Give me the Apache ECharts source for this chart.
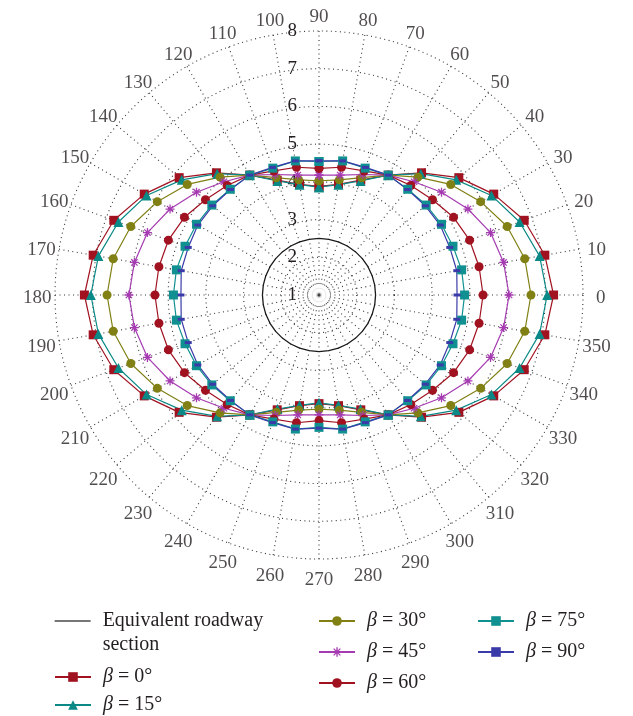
<!DOCTYPE html>
<html>
<head>
<meta charset="utf-8">
<script src="https://cdn.jsdelivr.net/npm/echarts@6/dist/echarts.min.js"></script>
<style>
  html, body { margin: 0; padding: 0; background: #ffffff; }
  #chart { width: 633px; height: 716px; }
</style>
</head>
<body>
<div id="chart"></div>
<script>
// Polar angles (degrees) at which every profile is sampled, and the angle tick labels
const angleTicks = [0, 10, 20, 30, 40, 50, 60, 70, 80, 90, 100, 110, 120, 130, 140, 150, 160, 170,
                    180, 190, 200, 210, 220, 230, 240, 250, 260, 270, 280, 290, 300, 310, 320, 330, 340, 350];

// Radius of the equivalent (circular) roadway section
const equivalentSection = [2.5, 2.5, 2.5, 2.5, 2.5, 2.5, 2.5, 2.5, 2.5, 2.5, 2.5, 2.5, 2.5, 2.5, 2.5, 2.5, 2.5, 2.5,
                           2.5, 2.5, 2.5, 2.5, 2.5, 2.5, 2.5, 2.5, 2.5, 2.5, 2.5, 2.5, 2.5, 2.5, 2.5, 2.5, 2.5, 2.5];

// Plastic-zone boundary radius for each β, one value per angle in angleTicks
const beta0 = [7.22, 7.08, 6.79, 6.35, 5.84, 5.23, 4.67, 4.24, 3.98, 3.88, 3.98, 4.24, 4.67, 5.23, 5.84, 6.35, 6.79, 7.08,
               7.22, 7.08, 6.79, 6.35, 5.84, 5.23, 4.67, 4.24, 3.98, 3.88, 3.98, 4.24, 4.67, 5.23, 5.84, 6.35, 6.79, 7.08];
const beta15 = [7.05, 6.94, 6.66, 6.28, 5.75, 5.20, 4.67, 4.22, 3.97, 3.86, 3.97, 4.22, 4.67, 5.20, 5.75, 6.28, 6.66, 6.94,
                7.05, 6.94, 6.66, 6.28, 5.75, 5.20, 4.67, 4.22, 3.97, 3.86, 3.97, 4.22, 4.67, 5.20, 5.75, 6.28, 6.66, 6.94];
const beta30 = [6.62, 6.54, 6.31, 5.95, 5.56, 5.08, 4.67, 4.31, 4.10, 4.03, 4.10, 4.31, 4.67, 5.08, 5.56, 5.95, 6.31, 6.54,
                6.62, 6.54, 6.31, 5.95, 5.56, 5.08, 4.67, 4.31, 4.10, 4.03, 4.10, 4.31, 4.67, 5.08, 5.56, 5.95, 6.31, 6.54];
const beta45 = [6.04, 5.97, 5.84, 5.56, 5.24, 4.92, 4.67, 4.40, 4.23, 4.18, 4.23, 4.40, 4.67, 4.92, 5.24, 5.56, 5.84, 5.97,
                6.04, 5.97, 5.84, 5.56, 5.24, 4.92, 4.67, 4.40, 4.23, 4.18, 4.23, 4.40, 4.67, 4.92, 5.24, 5.56, 5.84, 5.97];
const beta60 = [5.35, 5.31, 5.25, 5.12, 4.93, 4.79, 4.67, 4.50, 4.44, 4.36, 4.44, 4.50, 4.67, 4.79, 4.93, 5.12, 5.25, 5.31,
                5.35, 5.31, 5.25, 5.12, 4.93, 4.79, 4.67, 4.50, 4.44, 4.33, 4.44, 4.50, 4.67, 4.79, 4.93, 5.12, 5.25, 5.31];
const beta75 = [4.86, 4.84, 4.78, 4.75, 4.71, 4.66, 4.67, 4.58, 4.61, 4.54, 4.61, 4.58, 4.67, 4.66, 4.71, 4.75, 4.78, 4.84,
                4.86, 4.84, 4.78, 4.75, 4.71, 4.66, 4.67, 4.58, 4.61, 4.51, 4.61, 4.58, 4.67, 4.66, 4.71, 4.75, 4.78, 4.84];
const beta90 = [4.66, 4.71, 4.69, 4.71, 4.68, 4.65, 4.67, 4.60, 4.61, 4.56, 4.61, 4.60, 4.67, 4.65, 4.68, 4.71, 4.69, 4.71,
                4.66, 4.71, 4.69, 4.71, 4.68, 4.65, 4.67, 4.60, 4.61, 4.53, 4.61, 4.60, 4.67, 4.65, 4.68, 4.71, 4.69, 4.71];

// Radial axis range and the pole marker
const radiusMin = 1;
const radiusMax = 8;
const radiusStep = 1;
const poleMark = [[1, 90]];

const SERIF = "'Liberation Serif', 'Times New Roman', serif";
const INK = '#231f20';
const ASTERISK = 'path://M4.3,0L5.7,0L5.7,10L4.3,10Z M0,4.3L10,4.3L10,5.7L0,5.7Z M2,1L9,8L8,9L1,2Z M8,1L9,2L2,9L1,8Z';

// The angle axis runs from 90 to 450 so that the radial labels sit on the vertical spoke
const toAxisAngle = a => (a < 90 ? a + 360 : a);

// Closed loop: start at 90°, go round counter-clockwise and come back to 90°
function loop(values) {
  const pts = [];
  for (let k = 0; k <= angleTicks.length; k++) {
    const idx = (9 + k) % angleTicks.length;
    const a = angleTicks[idx];
    pts.push([values[idx], k === angleTicks.length ? 450 : toAxisAngle(a)]);
  }
  return pts;
}

function profile(name, values, color, symbol, size) {
  return {
    name: name,
    type: 'line',
    coordinateSystem: 'polar',
    data: loop(values),
    symbol: symbol,
    symbolSize: size,
    showSymbol: true,
    clip: false,
    lineStyle: { color: color, width: 1.2 },
    itemStyle: { color: color },
    emphasis: { disabled: true },
    z: 3
  };
}

const betaName = b => 'β = ' + b + '°';

const series = [
  {
    name: 'Equivalent roadway section',
    type: 'line',
    coordinateSystem: 'polar',
    data: loop(equivalentSection),
    symbol: 'none',
    showSymbol: false,
    lineStyle: { color: '#1a1a1a', width: 1.3 },
    itemStyle: { color: '#1a1a1a' },
    z: 3
  },
  profile(betaName(0), beta0, '#a11221', 'rect', 9),
  profile(betaName(15), beta15, '#0a8986', 'triangle', 10),
  profile(betaName(30), beta30, '#808015', 'circle', 9),
  profile(betaName(45), beta45, '#a53bb1', ASTERISK, 9),
  profile(betaName(60), beta60, '#a11221', 'circle', 9),
  profile(betaName(75), beta75, '#109090', 'rect', 9),
  profile(betaName(90), beta90, '#3a3aa8', 'rect', [7, 3]),
  {
    // pole marker: ring with a dot
    type: 'scatter',
    coordinateSystem: 'polar',
    data: poleMark,
    symbol: 'emptyCircle',
    symbolSize: 16,
    itemStyle: { color: '#ffffff', borderColor: '#111', borderWidth: 1.5 },
    silent: true,
    z: 4
  },
  {
    type: 'scatter',
    coordinateSystem: 'polar',
    data: poleMark,
    symbol: 'circle',
    symbolSize: 3.5,
    itemStyle: { color: '#111' },
    silent: true,
    z: 5
  },
  {
    // angle labels, centred just outside the outer ring
    type: 'scatter',
    coordinateSystem: 'polar',
    clip: false,
    data: angleTicks.map(a => [8.47, toAxisAngle(a), String(a)]),
    symbolSize: 1,
    itemStyle: { color: 'rgba(0,0,0,0)' },
    label: {
      show: true,
      position: [0.5, 4],
      align: 'center',
      verticalAlign: 'middle',
      formatter: p => p.value[2],
      fontFamily: SERIF,
      fontSize: 19,
      color: INK
    },
    labelLayout: { hideOverlap: false },
    silent: true,
    z: 2
  }
];

const legendText = {
  fontFamily: SERIF,
  fontSize: 20,
  color: INK,
  lineHeight: 24,
  padding: [0, 0, 0, 7],
  rich: {
    i: { fontStyle: 'italic', fontFamily: SERIF, fontSize: 20, color: INK, lineHeight: 24 }
  }
};
const legendFormat = name =>
  name === 'Equivalent roadway section' ? 'Equivalent roadway\nsection' : '{i|β}' + name.slice(1);

function legendBlock(left, top, names, gap, extra) {
  return Object.assign({
    orient: 'vertical',
    left: left,
    top: top,
    height: 110,
    padding: 0,
    itemWidth: 36,
    itemHeight: 12,
    itemGap: gap,
    selectedMode: false,
    data: names,
    formatter: legendFormat,
    textStyle: legendText
  }, extra || {});
}

const option = {
  backgroundColor: '#ffffff',
  animation: false,
  polar: { center: [319, 295], radius: 264 },
  angleAxis: {
    type: 'value',
    min: 90,
    max: 450,
    interval: 10,
    startAngle: 90,
    clockwise: false,
    axisLine: { show: false },
    axisTick: { show: false },
    axisLabel: { show: false },
    splitLine: { show: true, lineStyle: { color: '#333', width: 1.1, type: [1, 3.5] } }
  },
  radiusAxis: {
    type: 'value',
    min: radiusMin,
    max: radiusMax,
    interval: radiusStep,
    axisLine: { show: false },
    axisTick: { show: false },
    axisLabel: { show: true, margin: 22, padding: [6, 0, 0, 0], fontFamily: SERIF, fontSize: 19, color: INK },
    splitLine: { show: true, lineStyle: { color: '#333', width: 1.1, type: [1, 3.5] } },
    z: 2
  },
  legend: [
    legendBlock(54, 585, ['Equivalent roadway section'], 0, {
      textStyle: Object.assign({}, legendText, { padding: [24, 0, 0, 7] }),
      itemStyle: { opacity: 0 },
      lineStyle: { color: '#4a4a4a', width: 1.3 }
    }),
    legendBlock(54, 665, [betaName(0), betaName(15)], 4, { height: 60 }),
    legendBlock(318, 609, [betaName(30), betaName(45), betaName(60)], 7),
    legendBlock(477, 609, [betaName(75), betaName(90)], 7)
  ],
  series: series
};

const chart = echarts.init(document.getElementById('chart'), null, { renderer: 'canvas' });
chart.setOption(option);
</script>
</body>
</html>
